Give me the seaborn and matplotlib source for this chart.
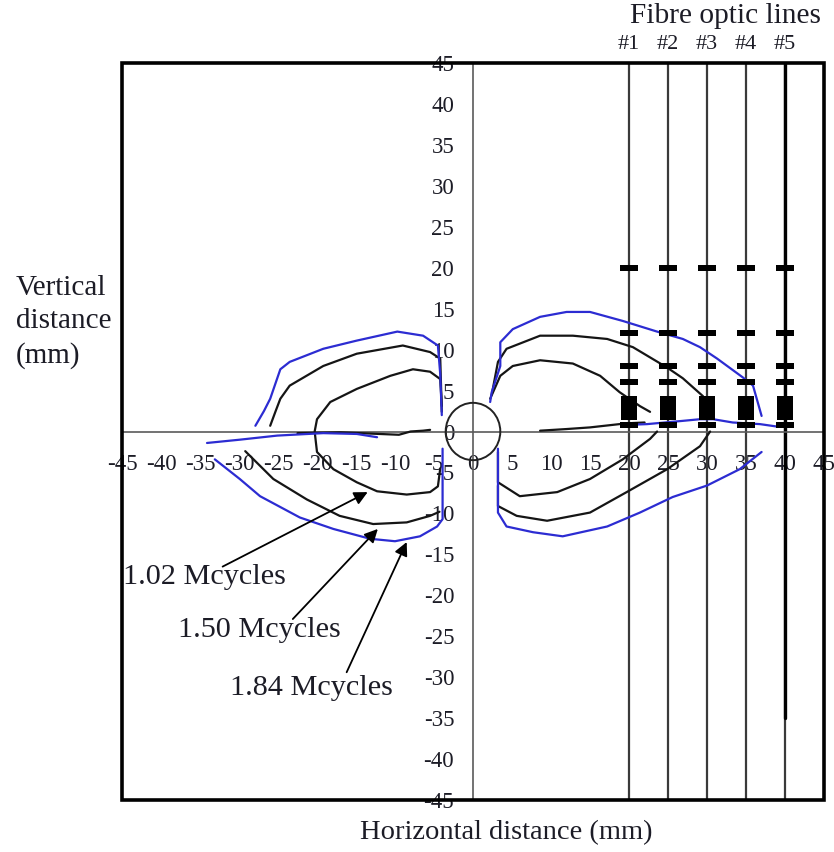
import numpy as np
import pandas as pd
import matplotlib
matplotlib.use("Agg")
import matplotlib.pyplot as plt
from matplotlib.patches import Rectangle, Circle
import seaborn as sns

# ---- data -------------------------------------------------------------
fibre_x = [20, 25, 30, 35, 40]
fibre_names = ["#1", "#2", "#3", "#4", "#5"]
dash_levels = [20, 12, 8, 6, 0.8]
block_level = 2.85
fibre5_dark_end = -35

hole_radius = 3.5
ticks = list(range(-45, 50, 5))

# contour traces (x, y) in mm; level in Mcycles
l184_upper = [(-27.9, 0.7), (-26.8, 2.5), (-26.0, 4.0), (-24.7, 7.6), (-23.5, 8.5), (-19.2, 10.1),
              (-14.9, 11.1), (-9.7, 12.2), (-6.4, 11.7), (-4.5, 10.5), (-4.2, 7.0), (-4.0, 2.0)]
l184_axis = [(-34.1, -1.4), (-29.9, -1.0), (-25.1, -0.5), (-19.2, -0.2), (-14.9, -0.3), (-12.3, -0.7)]
l184_lower = [(-33.1, -3.4), (-29.9, -5.8), (-27.3, -7.9), (-22.2, -10.5), (-17.9, -11.9),
              (-13.2, -13.1), (-10.0, -13.4), (-6.8, -12.8), (-4.6, -11.6), (-3.9, -10.7), (-3.9, -2.1)]
l150_upper = [(-26.0, 0.7), (-25.3, 2.5), (-24.7, 4.0), (-23.5, 5.6), (-19.2, 8.0), (-14.9, 9.5),
              (-9.0, 10.5), (-5.5, 9.7), (-4.2, 8.9), (-4.0, 2.4)]
l150_lower = [(-29.2, -2.4), (-25.6, -5.8), (-21.3, -8.3), (-17.1, -10.3), (-12.8, -11.3),
              (-8.5, -11.1), (-5.5, -10.3), (-4.3, -9.8)]
l102 = [(-4.0, 3.1), (-4.2, 6.4), (-5.5, 7.3), (-7.7, 7.6), (-10.6, 6.8), (-14.9, 5.2), (-18.3, 3.6),
        (-20.0, 1.5), (-20.3, 0.0), (-20.0, -2.5), (-17.9, -4.6), (-14.9, -6.2), (-12.3, -7.3),
        (-8.5, -7.7), (-5.5, -7.4), (-4.5, -6.7), (-4.2, -4.5)]
l_axis_black = [(-22.5, -0.2), (-17.0, -0.1), (-12.0, -0.3), (-9.5, -0.4), (-8.0, 0.0),
                (-6.4, 0.1), (-5.5, 0.2)]

r184_upper = [(2.2, 3.6), (2.4, 4.8), (3.5, 8.0), (3.5, 10.9), (5.1, 12.5), (8.6, 14.0), (12.0, 14.6),
              (15.0, 14.6), (19.2, 13.5), (23.6, 12.2), (26.9, 11.3), (29.1, 10.3), (31.3, 8.9),
              (34.6, 6.6), (35.9, 5.6), (37.0, 1.9)]
r184_axis = [(19.7, 0.8), (22.3, 0.9), (26.9, 1.3), (29.1, 1.5), (30.8, 1.5), (33.3, 1.1),
             (36.8, 0.9), (39.0, 0.6), (40.3, 0.8)]
r184_lower = [(3.2, -2.1), (3.2, -9.9), (4.3, -11.6), (7.7, -12.3), (11.5, -12.8), (17.2, -11.6),
              (21.4, -9.9), (25.6, -8.0), (30.0, -6.6), (34.2, -4.6), (37.0, -2.5)]
r150_upper = [(2.4, 4.5), (3.2, 8.5), (4.3, 10.1), (8.6, 11.7), (12.8, 11.7), (17.2, 11.3),
              (20.5, 10.3), (24.9, 7.8), (26.9, 6.5), (29.5, 4.3)]
r150_lower = [(3.2, -6.6), (3.2, -9.1), (5.6, -10.3), (9.5, -10.9), (15.0, -9.9), (19.7, -7.4),
              (24.9, -4.6), (29.1, -1.8), (30.4, 0.0)]
r102_upper = [(2.2, 4.0), (3.5, 6.8), (5.1, 8.0), (8.6, 8.7), (12.8, 8.3), (16.3, 6.8),
              (18.8, 4.8), (21.4, 3.1), (22.7, 2.4)]
r102_lower = [(3.2, -2.5), (3.2, -6.2), (6.0, -7.9), (10.8, -7.4), (15.0, -5.8), (19.2, -3.4),
              (22.7, -0.9), (23.6, 0.0)]
r_axis_black = [(8.6, 0.1), (12.0, 0.3), (15.0, 0.5), (19.7, 1.0), (22.0, 1.1)]

blue_traces = [l184_upper, l184_axis, l184_lower, r184_upper, r184_axis, r184_lower]
black_traces = [l150_upper, l150_lower, l102, l_axis_black,
                r150_upper, r150_lower, r102_upper, r102_lower, r_axis_black]

# labels and arrows (text anchor, arrow tail, arrow tip)
level_labels = ["1.02 Mcycles", "1.50 Mcycles", "1.84 Mcycles"]
label_pos = [(-44.9, -17.8), (-37.8, -24.2), (-31.2, -31.3)]
arrow_tail = [(-32.1, -16.5), (-23.1, -22.9), (-16.2, -29.4)]
arrow_tip = [(-13.5, -7.4), (-12.2, -11.9), (-8.5, -13.5)]

# ---- styling ----------------------------------------------------------
sns.set_theme(style="white")
plt.rcParams["font.family"] = ["Liberation Serif", "DejaVu Serif"]
plt.rcParams["axes.unicode_minus"] = False

BLUE = "#2c2cd2"
TXT = "#1c1c26"
AX_GREY = "#5a5a5a"

fig = plt.figure(figsize=(8.34, 8.52), dpi=100)
ax = fig.add_axes([122 / 834, 1 - 800 / 852, 702 / 834, 737 / 852])
ax.set_xlim(-45, 45)
ax.set_ylim(-45, 45)

# axes crossing at the origin
for side in ("top", "right"):
    ax.spines[side].set_visible(False)
for side in ("left", "bottom"):
    ax.spines[side].set_position(("data", 0))
    ax.spines[side].set_color(AX_GREY)
    ax.spines[side].set_linewidth(1.2)
ax.set_xticks(ticks)
ax.set_yticks(ticks)
ax.set_xticklabels([str(t) for t in ticks])
ax.set_yticklabels([str(t) for t in ticks])
ax.tick_params(axis="both", direction="inout", length=9, width=1.0, color=AX_GREY,
               labelsize=16.5, labelcolor=TXT)
ax.tick_params(axis="x", pad=12)
ax.tick_params(axis="y", pad=9)

# outer frame
ax.add_patch(Rectangle((0, 0), 1, 1, transform=ax.transAxes, fill=False, lw=2.6,
                       ec="black", clip_on=False, zorder=6))

# fibre optic lines
for fx in fibre_x:
    ax.plot([fx, fx], [-45, 45], color="#3a3a3a", lw=1.6, zorder=2)
ax.plot([fibre_x[-1], fibre_x[-1]], [45, fibre5_dark_end], color="black", lw=2.4, zorder=2)

# sensor markers on each fibre line
dash_marker = [(-1, -0.33), (1, -0.33), (1, 0.33), (-1, 0.33)]
block_marker = [(-0.7, -1), (0.7, -1), (0.7, 1), (-0.7, 1)]
dash_df = pd.DataFrame([(fx, lv) for fx in fibre_x for lv in dash_levels], columns=["x", "y"])
block_df = pd.DataFrame([(fx, block_level) for fx in fibre_x], columns=["x", "y"])
sns.scatterplot(data=dash_df, x="x", y="y", marker=dash_marker, s=185, color="black",
                linewidth=0, ax=ax, zorder=4)
sns.scatterplot(data=block_df, x="x", y="y", marker=block_marker, s=280, color="black",
                linewidth=0, ax=ax, zorder=4)

# central hole
ax.add_patch(Circle((0, 0), hole_radius, fill=False, ec="#222222", lw=1.4, zorder=3))

# damage contours
def draw_trace(pts, colour):
    df = pd.DataFrame(pts, columns=["x", "y"])
    sns.lineplot(data=df, x="x", y="y", sort=False, estimator=None, color=colour,
                 lw=1.6, ax=ax, zorder=3)

for tr in black_traces:
    draw_trace(tr, "#151515")
for tr in blue_traces:
    draw_trace(tr, BLUE)

ax.set_xlabel("")
ax.set_ylabel("")

# level annotations
for txt, (tx, ty), tail, tip in zip(level_labels, label_pos, arrow_tail, arrow_tip):
    ax.text(tx, ty, txt, ha="left", va="center", fontsize=21.8, color=TXT, zorder=5)
    ax.annotate("", xy=tip, xytext=tail,
                arrowprops=dict(arrowstyle="-|>", color="black", lw=1.3,
                                mutation_scale=20, shrinkA=0, shrinkB=0), zorder=5)

# fibre labels above the frame
for fx, name in zip(fibre_x, fibre_names):
    ax.text(fx, 47.3, name, ha="center", va="center", fontsize=16, color=TXT, clip_on=False)
ax.text(32.3, 50.7, "Fibre optic lines", ha="center", va="center", fontsize=21.2,
        color=TXT, clip_on=False)

# axis titles
fig.text(16 / 834, 1 - 322 / 852, "Vertical\ndistance\n(mm)", ha="left", va="center",
         fontsize=21, color=TXT, linespacing=1.35)
fig.text(506 / 834, 1 - 833 / 852, "Horizontal distance (mm)", ha="center", va="center",
         fontsize=20.5, color=TXT)

fig.savefig("out.png", dpi=100, facecolor="white")
